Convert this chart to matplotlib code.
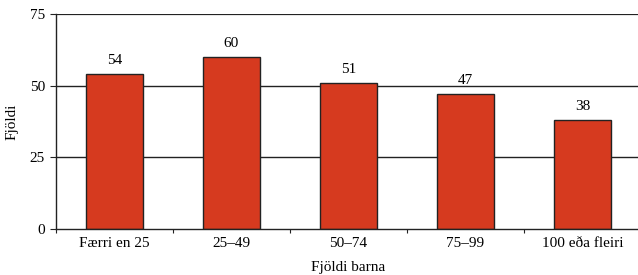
import matplotlib.pyplot as plt
import numpy as np

plt.rcParams['font.family'] = ['Liberation Serif', 'DejaVu Serif']

categories = ['Færri en 25', '25–49', '50–74', '75–99', '100 eða fleiri']
values = [54, 60, 51, 47, 38]
yticks = [0, 25, 50, 75]

fig = plt.figure(figsize=(6.38, 2.75), dpi=100)
ax = fig.add_axes([56 / 638, 46 / 275, 585 / 638, 215 / 275])

x = np.arange(len(categories))
for y in yticks[1:]:
    ax.axhline(y, color='#222222', lw=1.0 if y < 75 else 1.6, zorder=1)

bars = ax.bar(x, values, width=0.49, color='#d63a1f', edgecolor='#222222',
              linewidth=1.0, zorder=2)
for xi, v in zip(x, values):
    ax.text(xi, v + 2.5, str(v), ha='center', va='bottom', fontsize=11)

ax.set_xlim(-0.5, len(categories) - 0.5)
ax.set_ylim(0, 75)
ax.set_yticks(yticks)
ax.set_xticks(x)
ax.set_xticklabels(categories)
ax.set_xticks(np.arange(len(categories) + 1) - 0.5, minor=True)
ax.tick_params(axis='x', which='major', length=0, labelsize=11, pad=6)
ax.tick_params(axis='x', which='minor', length=3, width=0.8, color='#222222')
ax.tick_params(axis='y', length=4, width=0.8, labelsize=11, color='#222222', pad=4)

for s in ['top', 'right']:
    ax.spines[s].set_visible(False)
ax.spines['left'].set_color('#222222')
ax.spines['bottom'].set_color('#222222')
ax.spines['left'].set_linewidth(1.0)
ax.spines['bottom'].set_linewidth(1.0)

ax.set_ylabel('Fjöldi', fontsize=11, labelpad=8)
ax.set_xlabel('Fjöldi barna', fontsize=11, labelpad=8)

fig.savefig('out.png', dpi=100)
